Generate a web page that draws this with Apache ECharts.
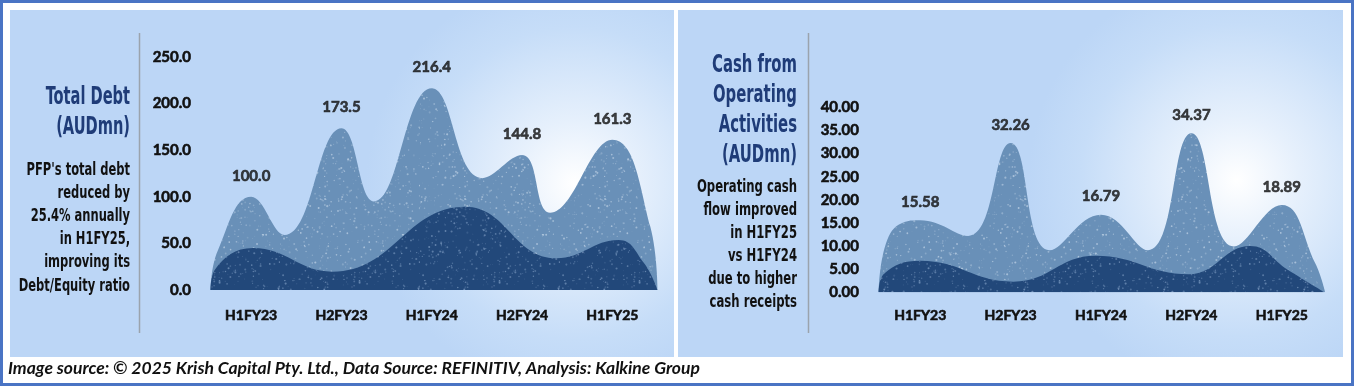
<!DOCTYPE html>
<html><head><meta charset="utf-8">
<script src="https://cdn.jsdelivr.net/npm/echarts@6/dist/echarts.min.js"></script>
<style>html,body{margin:0;padding:0;background:#fff;}#c{width:1354px;height:386px;}</style>
</head><body><div id="c"></div>
<script>
// ---------- data ----------
const categories = ['H1FY23', 'H2FY23', 'H1FY24', 'H2FY24', 'H1FY25'];
const totalDebt = [100.0, 173.5, 216.4, 144.8, 161.3];
const cashFromOps = [15.58, 32.26, 16.79, 34.37, 18.89];
const debtTicks = [0, 50, 100, 150, 200, 250];
const cashTicks = [0, 5, 10, 15, 20, 25, 30, 35, 40];

// decorative silhouette points: [category position, value]
const debtValleys = [[0.37, 59], [1.36, 95], [2.56, 120], [3.31, 83]];
const debtEdgeLeft = [[-0.45, 0], [-0.37, 42]];
const debtEdgeRight = [[4.42, 68], [4.5, 0]];
const debtUnder = [[-0.45, 0], [-0.4, 22], [0.02, 45], [0.9, 19.7], [2.37, 89.4], [3.38, 34], [4.07, 53.6], [4.35, 29], [4.5, 0]];

const cashValleys = [[0.53, 12.2], [1.43, 9.1], [2.52, 9.1], [3.47, 9.9]];
const cashEdgeLeft = [[-0.46, 0], [-0.38, 10.5], [-0.2, 15]];
const cashEdgeRight = [[4.37, 6.3], [4.48, 0]];
const cashUnder = [[-0.46, 0], [-0.4, 4], [0.0, 6.8], [1.03, 2.3], [1.94, 7.9], [2.97, 3.9], [3.65, 10.0], [4.07, 4.8], [4.47, 0]];

// ---------- helpers ----------
function silhouette(values, valleys, left, right) {
  const pts = left.slice();
  values.forEach((v, i) => {
    pts.push([i, v]);
    if (valleys[i]) pts.push(valleys[i]);
  });
  return pts.concat(right);
}
function speckle(base, dot, count, seed, size) {
  const cv = document.createElement('canvas');
  cv.width = size; cv.height = size;
  const ctx = cv.getContext('2d');
  ctx.fillStyle = base; ctx.fillRect(0, 0, size, size);
  let s = seed;
  const rnd = () => { s = (s * 1103515245 + 12345) % 2147483648; return s / 2147483648; };
  for (let k = 0; k < count; k++) {
    ctx.globalAlpha = 0.12 + rnd() * 0.4;
    ctx.fillStyle = dot;
    const r = 0.35 + rnd() * 0.75;
    ctx.beginPath(); ctx.arc(rnd() * size, rnd() * size, r, 0, Math.PI * 2); ctx.fill();
  }
  return { image: cv, repeat: 'repeat' };
}
const lightFill = speckle('#6990b8', '#e8f1fb', 620, 7, 140);
const darkFill = speckle('#22487a', '#a9c3e3', 720, 13, 140);

const condensed = "'DejaVu Sans Condensed', 'Liberation Sans Narrow', sans-serif";
function textLines(lines, x, y0, step, size, color, sx) {
  return lines.map((t, i) => ({
    type: 'text', x: x, y: y0 + i * step, scaleX: sx, silent: true, z: 10,
    style: { text: t, textAlign: 'right', textVerticalAlign: 'middle',
      font: 'bold ' + size + 'px ' + condensed, fill: color }
  }));
}
function panelBg(x, y, w, h, cx, cy) {
  return {
    type: 'rect', shape: { x: x, y: y, width: w, height: h }, silent: true, z: -10,
    style: { fill: { type: 'radial', x: cx, y: cy, r: 0.6, colorStops: [
      { offset: 0, color: '#ffffff' }, { offset: 0.3, color: '#e6f0fc' }, { offset: 0.75, color: '#c6ddf8' }, { offset: 1, color: '#bcd6f6' }] } }
  };
}

const axisFont = { fontFamily: 'Lato', fontWeight: 'bold', fontSize: 15, color: '#111',
  textBorderColor: '#111', textBorderWidth: 0.6 };

const graphics = [
  { type: 'rect', shape: { x: 1.5, y: 1.5, width: 1351, height: 383 }, silent: true, z: -20,
    style: { fill: '#ffffff', stroke: '#4a74c4', lineWidth: 3 } },
  panelBg(10, 10, 664, 347, 0.85, 0.5),
  panelBg(678, 10, 665, 347, 0.84, 0.49),
  { type: 'line', shape: { x1: 139.5, y1: 33, x2: 139.5, y2: 333 }, silent: true, style: { stroke: '#9aa3ad', lineWidth: 1.5 } },
  { type: 'line', shape: { x1: 808.5, y1: 33, x2: 808.5, y2: 333 }, silent: true, style: { stroke: '#9aa3ad', lineWidth: 1.5 } },
  { type: 'text', x: 8, y: 368, silent: true,
    style: { text: 'Image source: \u00a9 2025 Krish Capital Pty. Ltd., Data Source: REFINITIV, Analysis: Kalkine Group',
      textAlign: 'left', textVerticalAlign: 'middle', font: 'italic bold 17.5px Lato', fill: '#111' } }
].concat(
  textLines(['Total Debt', '(AUDmn)'], 130, 97, 30, 25, '#1f3c78', 0.65),
  textLines(["PFP's total debt", 'reduced by', '25.4% annually', 'in H1FY25,', 'improving its', 'Debt/Equity ratio'], 130, 170, 23.2, 18, '#111', 0.71),
  textLines(['Cash from', 'Operating', 'Activities', '(AUDmn)'], 797, 65, 30, 25, '#1f3c78', 0.66),
  textLines(['Operating cash', 'flow improved', 'in H1FY25', 'vs H1FY24', 'due to higher', 'cash receipts'], 797, 187, 23, 18, '#111', 0.72)
);

function catAxis(g, margin) {
  return { type: 'category', gridIndex: g, data: categories, boundaryGap: true,
    axisLine: { show: false }, axisTick: { show: false },
    axisLabel: Object.assign({ margin: margin }, axisFont, { fontSize: 14 }) };
}
function posAxis(g) { return { type: 'value', gridIndex: g, min: -0.5, max: 4.5, show: false }; }
function valAxis(g, ticks, digits, margin) {
  return { type: 'value', gridIndex: g, min: ticks[0], max: ticks[ticks.length - 1], interval: ticks[1] - ticks[0],
    splitLine: { show: false }, axisLine: { show: false }, axisTick: { show: false },
    axisLabel: Object.assign({ margin: margin, formatter: v => v.toFixed(digits) }, axisFont) };
}
function hill(xi, yi, data, fill, z) {
  return { type: 'line', xAxisIndex: xi, yAxisIndex: yi, data: data, smooth: 0.45, showSymbol: false, symbol: 'none',
    silent: true, z: z, lineStyle: { width: 0 }, areaStyle: { color: fill, opacity: 1 } };
}
function labels(xi, yi, data, digits, dist) {
  return { type: 'scatter', xAxisIndex: xi, yAxisIndex: yi, data: data, symbolSize: 1, silent: true, z: 6,
    itemStyle: { color: 'rgba(0,0,0,0)' },
    label: Object.assign({ show: true, position: 'top', distance: dist, formatter: p => p.value.toFixed(digits) }, axisFont) };
}

const option = {
  animation: false,
  graphic: graphics,
  grid: [
    { left: 206, top: 57, width: 451.5, height: 233 },
    { left: 875, top: 107.3, width: 452, height: 185 }
  ],
  xAxis: [catAxis(0, 18), posAxis(0), catAxis(1, 16), posAxis(1)],
  yAxis: [valAxis(0, debtTicks, 1, 15), valAxis(1, cashTicks, 2, 16)],
  series: [
    hill(1, 0, silhouette(totalDebt, debtValleys, debtEdgeLeft, debtEdgeRight), lightFill, 2),
    hill(1, 0, debtUnder, darkFill, 3),
    labels(0, 0, totalDebt, 1, 13),
    hill(3, 1, silhouette(cashFromOps, cashValleys, cashEdgeLeft, cashEdgeRight), lightFill, 2),
    hill(3, 1, cashUnder, darkFill, 3),
    labels(2, 1, cashFromOps, 2, 10)
  ]
};
const chart = echarts.init(document.getElementById('c'), null, { renderer: 'canvas' });
chart.setOption(option);
</script></body></html>
